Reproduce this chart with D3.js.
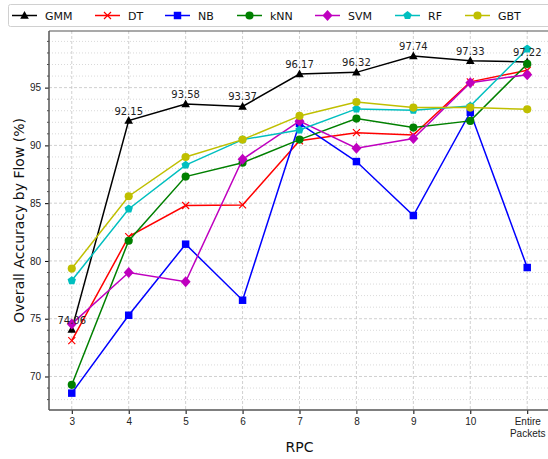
<!DOCTYPE html>
<html>
<head>
<meta charset="utf-8">
<script src="https://cdn.jsdelivr.net/npm/d3@7"></script>
<style>
  body { margin: 0; background: #fff; }
  svg { font-family: 'DejaVu Sans', sans-serif; }
</style>
</head>
<body>
<svg width="548" height="459"></svg>
<script>
const categories = ['3', '4', '5', '6', '7', '8', '9', '10', 'Entire Packets']
const seriesNames = ['GMM', 'DT', 'NB', 'kNN', 'SVM', 'RF', 'GBT']

const gmm = [74.06, 92.15, 93.58, 93.37, 96.17, 96.32, 97.74, 97.33, 97.22]
const dt = [73.1, 82.1, 84.8, 84.85, 90.4, 91.1, 90.9, 95.5, 96.5]
const nb = [68.56, 75.3, 81.45, 76.6, 91.9, 88.6, 83.93, 92.87, 79.43]
const knn = [69.28, 81.75, 87.3, 88.5, 90.5, 92.32, 91.54, 92.12, 97.05]
const svm = [74.55, 79.0, 78.2, 88.8, 92.1, 89.76, 90.6, 95.43, 96.12]
const rf = [78.3, 84.5, 88.3, 90.5, 91.34, 93.16, 93.04, 93.4, 98.35]
const gbt = [79.34, 85.6, 89.0, 90.5, 92.55, 93.76, 93.27, 93.27, 93.13]

const yTicks = [70, 75, 80, 85, 90, 95]

const series = [
  { name: 'GMM', values: gmm, color: '#000000', marker: 'triangle' },
  { name: 'DT', values: dt, color: '#ff0000', marker: 'x' },
  { name: 'NB', values: nb, color: '#0000ff', marker: 'square' },
  { name: 'kNN', values: knn, color: '#008000', marker: 'circle' },
  { name: 'SVM', values: svm, color: '#bf00bf', marker: 'diamond' },
  { name: 'RF', values: rf, color: '#00bfbf', marker: 'pentagon' },
  { name: 'GBT', values: gbt, color: '#bfbf00', marker: 'circle' }
]

const svg = d3.select('svg')
const margin = { left: 49, top: 31, right: -2, bottom: 49 }
const width = 548 - margin.left - margin.right
const height = 459 - margin.top - margin.bottom

const g = svg.append('g').attr('transform', `translate(${margin.left},${margin.top})`)

const x = d3.scalePoint().domain(categories).range([0, width]).padding(0.4)
const y = d3.scaleLinear().domain([67.1, 99.9]).range([height, 0])

// grid
const minor = d3.range(68, 100).filter(v => v % 5 !== 0)
g.append('g').selectAll('line').data(minor).enter().append('line')
  .attr('x1', 0).attr('x2', width)
  .attr('y1', d => y(d)).attr('y2', d => y(d))
  .attr('stroke', '#cfcfcf').attr('stroke-width', 0.8).attr('stroke-dasharray', '1,2')
g.append('g').selectAll('line').data(yTicks).enter().append('line')
  .attr('x1', 0).attr('x2', width)
  .attr('y1', d => y(d)).attr('y2', d => y(d))
  .attr('stroke', '#c4c4c4').attr('stroke-width', 0.8).attr('stroke-dasharray', '3,2')
g.append('g').selectAll('line').data(categories).enter().append('line')
  .attr('x1', d => x(d)).attr('x2', d => x(d))
  .attr('y1', 0).attr('y2', height)
  .attr('stroke', '#c4c4c4').attr('stroke-width', 0.8).attr('stroke-dasharray', '3,2')

// axes
const yAxis = g.append('g').call(d3.axisLeft(y).tickValues(yTicks).tickSize(4).tickPadding(4))
yAxis.selectAll('text').attr('font-size', 10).attr('fill', '#222')
yAxis.select('.domain').remove()
g.append('g').selectAll('line').data(minor).enter().append('line')
  .attr('x1', -2).attr('x2', 0)
  .attr('y1', d => y(d)).attr('y2', d => y(d))
  .attr('stroke', '#000').attr('stroke-width', 0.7)

const xAxis = g.append('g').attr('transform', `translate(0,${height})`)
  .call(d3.axisBottom(x).tickSize(4).tickPadding(4))
xAxis.select('.domain').remove()
xAxis.selectAll('.tick text').attr('font-size', 10).attr('fill', '#222').text(null)
  .each(function (d) {
    const parts = d.split(' ')
    const t = d3.select(this)
    parts.forEach((p, i) => {
      t.append('tspan').attr('x', 0).attr('dy', i === 0 ? '0.71em' : '1.15em').text(p)
    })
  })

// spines
g.append('line').attr('x1', 0).attr('x2', 0).attr('y1', 0).attr('y2', height).attr('stroke', '#555').attr('stroke-width', 1.5)
g.append('line').attr('x1', 0).attr('x2', width).attr('y1', height).attr('y2', height).attr('stroke', '#555').attr('stroke-width', 1.5)
g.append('line').attr('x1', 0).attr('x2', width).attr('y1', 0).attr('y2', 0).attr('stroke', '#555').attr('stroke-width', 1.2)

// markers
function drawMarker(sel, type, color) {
  if (type === 'x') {
    sel.append('path').attr('d', 'M-3.5,-3.5L3.5,3.5M-3.5,3.5L3.5,-3.5')
      .attr('stroke', color).attr('stroke-width', 1.2).attr('fill', 'none')
  } else {
    let path
    if (type === 'pentagon') {
      const pts = d3.range(5).map(i => {
        const a = -Math.PI / 2 + i * 2 * Math.PI / 5
        return [4.4 * Math.cos(a), 4.4 * Math.sin(a)]
      })
      path = 'M' + pts.join('L') + 'Z'
    } else if (type === 'diamond') {
      path = 'M0,-5.5L5,0L0,5.5L-5,0Z'
    } else if (type === 'triangle') {
      path = 'M0,-4.5L4.3,3.2L-4.3,3.2Z'
    } else if (type === 'square') {
      path = d3.symbol().type(d3.symbolSquare).size(56)()
    } else {
      path = d3.symbol().type(d3.symbolCircle).size(52)()
    }
    sel.append('path').attr('d', path).attr('fill', color)
  }
}

const line = d3.line().x((d, i) => x(categories[i])).y(d => y(d))

series.forEach(s => {
  g.append('path').datum(s.values).attr('d', line)
    .attr('fill', 'none').attr('stroke', s.color).attr('stroke-width', 1.5)
  g.append('g').selectAll('g').data(s.values).enter().append('g')
    .attr('transform', (d, i) => `translate(${x(categories[i])},${y(d)})`)
    .each(function () { drawMarker(d3.select(this), s.marker, s.color) })
})

// GMM value labels
g.append('g').selectAll('text').data(gmm).enter().append('text')
  .attr('x', (d, i) => x(categories[i]))
  .attr('y', d => y(d) - 6)
  .attr('text-anchor', 'middle').attr('font-size', 10).attr('fill', '#222')
  .text(d => d.toFixed(2))

// axis titles
svg.append('text').attr('x', margin.left + x('7')).attr('y', 452)
  .attr('text-anchor', 'middle').attr('font-size', 14).attr('fill', '#111').text('RPC')
svg.append('text').attr('transform', `translate(24,${margin.top + height / 2}) rotate(-90)`)
  .attr('text-anchor', 'middle').attr('font-size', 14).attr('fill', '#111')
  .text('Overall Accuracy by Flow (%)')

// legend
const legend = svg.append('g')
legend.append('rect').attr('x', 8.5).attr('y', 4.5).attr('width', 545).attr('height', 22)
  .attr('rx', 2).attr('fill', '#fff').attr('stroke', '#d0d0d0').attr('stroke-width', 1)
const legendX = [12, 95, 165, 237, 315, 395, 465]
series.forEach((s, i) => {
  const lg = legend.append('g').attr('transform', `translate(${legendX[i]},15.5)`)
  lg.append('line').attr('x1', 0).attr('x2', 25).attr('stroke', s.color).attr('stroke-width', 1.5)
  const m = lg.append('g').attr('transform', 'translate(12.5,0)')
  drawMarker(m, s.marker, s.color)
  lg.append('text').attr('x', 33).attr('y', 4.5).attr('font-size', 11).attr('fill', '#111').text(s.name)
})
</script>
</body>
</html>
